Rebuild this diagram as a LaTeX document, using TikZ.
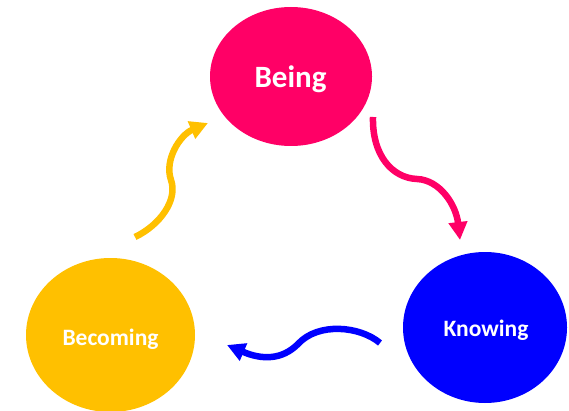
\documentclass[tikz,border=0pt]{standalone}
\usepackage{fontspec}
\setmainfont{Carlito}
\usetikzlibrary{shapes.geometric,arrows.meta}
\definecolor{bepink}{HTML}{FF0066}
\definecolor{knblue}{HTML}{0000FF}
\definecolor{beyel}{HTML}{FFC000}
\tikzset{
  blob/.style={ellipse, inner sep=0pt, draw=none},
  lbl/.style={anchor=base, text=white, font=\bfseries, inner sep=0pt},
  wavy/.style={line width=6.5pt, -{Triangle[length=18pt,width=18pt]}}
}
\begin{document}
\begin{tikzpicture}[x=1pt,y=-1pt]
\useasboundingbox (0,0) rectangle (569,411);
\clip (0,0) rectangle (569,411);
\node[blob, fill=bepink, minimum width=162pt, minimum height=139pt] (being) at (291,76.5) {};
\node[blob, fill=knblue, minimum width=164pt, minimum height=151pt] (knowing) at (485,327.5) {};
\node[blob, fill=beyel, minimum width=169pt, minimum height=154pt] (becoming) at (110.5,335) {};
\node[lbl, font=\bfseries\fontsize{31}{31}\selectfont] (tbeing) at (290.5,88) {Being};
\node[lbl, font=\bfseries\fontsize{23.5}{23.5}\selectfont] (tknowing) at (486,336.5) {Knowing};
\node[lbl, font=\bfseries\fontsize{23.5}{23.5}\selectfont] (tbecoming) at (110.5,345) {Becoming};
\coordinate (p1) at (373,117);
\coordinate (p2) at (460,240);
\coordinate (b1) at (380,343);
\coordinate (b2) at (227,345);
\coordinate (y1) at (135,237);
\coordinate (y2) at (208,123);
\draw[wavy, draw=bepink] (p1) .. controls (372,155) and (392,178) .. (417,179) .. controls (440,180) and (456,205) .. (p2);
\draw[wavy, draw=knblue] (b1) .. controls (360,326) and (318,322) .. (298,344) .. controls (282,360) and (262,360) .. (b2);
\draw[wavy, draw=beyel] (y1) .. controls (160,225) and (178,200) .. (171,180) .. controls (164,160) and (180,135) .. (y2);
\end{tikzpicture}
\end{document}
